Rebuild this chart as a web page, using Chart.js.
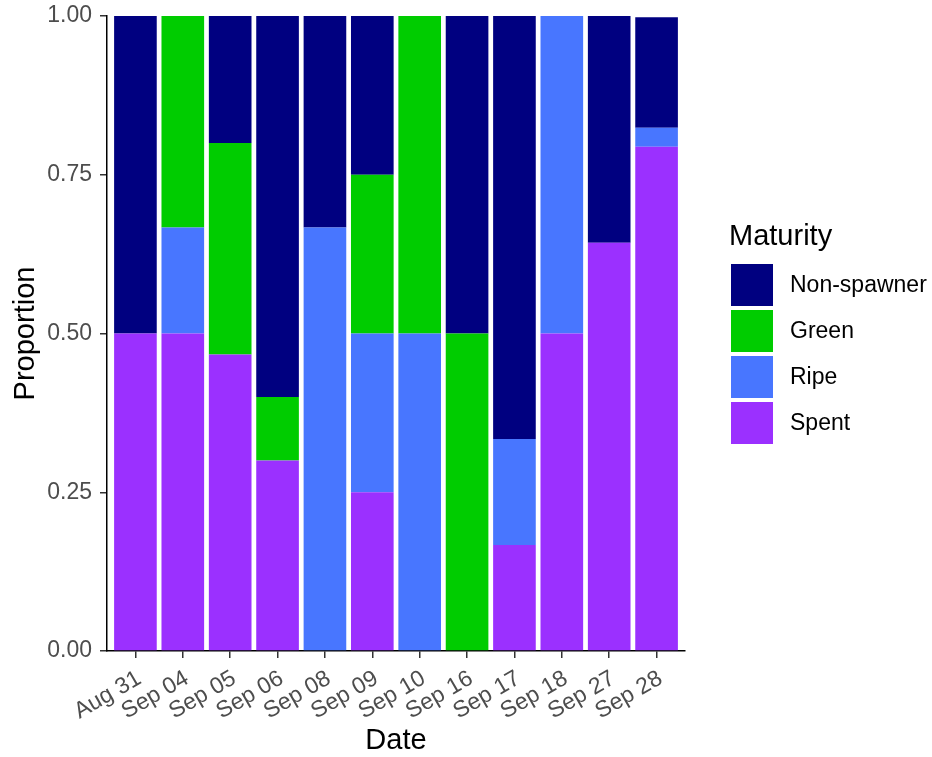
<!DOCTYPE html>
<html>
<head>
<meta charset="utf-8">
<script src="https://cdn.jsdelivr.net/npm/chart.js@4.4.1/dist/chart.umd.min.js"></script>
<style>
  html, body { margin: 0; padding: 0; background: #fff; }
  #wrap { width: 932px; height: 757px; }
</style>
</head>
<body>
<div id="wrap"><canvas id="chart" width="932" height="757"></canvas></div>
<script>
// categories (sampling dates)
var dates = ['Aug 31', 'Sep 04', 'Sep 05', 'Sep 06', 'Sep 08', 'Sep 09', 'Sep 10', 'Sep 16', 'Sep 17', 'Sep 18', 'Sep 27', 'Sep 28'];

// proportion of each maturity stage, per date
var spent      = [0.5, 0.5,   0.467, 0.3, 0,     0.25, 0,   0,   0.167, 0.5, 0.643, 0.794];
var ripe       = [0,   0.167, 0,     0,   0.667, 0.25, 0.5, 0,   0.167, 0.5, 0,     0.030];
var green      = [0,   0.333, 0.333, 0.1, 0,     0.25, 0.5, 0.5, 0,     0,   0,     0];
var nonSpawner = [0.5, 0,     0.2,   0.6, 0.333, 0.25, 0,   0.5, 0.666, 0,   0.357, 0.174];

var yTicks = [0, 0.25, 0.5, 0.75, 1];

var textGrey = '#4d4d4d';
var fontFam = '"Liberation Sans", Arial, sans-serif';

function toPoints(arr) {
    return arr.map(function (v, i) { return { x: i + 1, y: v }; });
}

// legend drawn by hand, ggplot style (title above, square keys)
var sideLegend = {
    id: 'sideLegend',
    afterDraw: function (chart) {
        var ctx = chart.ctx;
        var sets = chart.data.datasets.slice().reverse();
        var x0 = 731, y0 = 264, key = 42, step = 46;
        ctx.save();
        ctx.fillStyle = '#000';
        ctx.font = '29px ' + fontFam;
        ctx.textBaseline = 'middle';
        ctx.textAlign = 'left';
        ctx.fillText('Maturity', 729, 237);
        ctx.font = '23px ' + fontFam;
        sets.forEach(function (ds, i) {
            var y = y0 + i * step;
            ctx.fillStyle = ds.backgroundColor;
            ctx.fillRect(x0, y, key, key);
            ctx.fillStyle = '#000';
            ctx.fillText(ds.label, 790, y + key / 2 + 1);
        });
        ctx.restore();
    }
};

var ctx = document.getElementById('chart');

new Chart(ctx, {
    type: 'bar',
    data: {
        datasets: [
            { label: 'Spent', data: toPoints(spent), backgroundColor: '#9B30FF' },
            { label: 'Ripe', data: toPoints(ripe), backgroundColor: '#4876FF' },
            { label: 'Green', data: toPoints(green), backgroundColor: '#00CC00' },
            { label: 'Non-spawner', data: toPoints(nonSpawner), backgroundColor: '#000080' }
        ]
    },
    options: {
        responsive: false,
        animation: false,
        barPercentage: 0.9,
        categoryPercentage: 1.0,
        layout: { padding: { left: 0, top: 16, right: 247, bottom: 0 } },
        plugins: {
            legend: { display: false },
            tooltip: { enabled: false }
        },
        scales: {
            x: {
                type: 'linear',
                stacked: true,
                offset: false,
                min: 0.4,
                max: 12.6,
                afterBuildTicks: function (scale) {
                    scale.ticks = dates.map(function (d, i) { return { value: i + 1 }; });
                },
                afterFit: function (scale) {
                    scale.height = 106;
                    scale.paddingLeft = 0;
                    scale.paddingRight = 0;
                },
                grid: { offset: false, drawOnChartArea: false, drawTicks: true, tickLength: 7, color: '#333', lineWidth: 1.5 },
                border: { color: '#000', width: 1.5 },
                ticks: {
                    autoSkip: false,
                    minRotation: 30,
                    maxRotation: 30,
                    padding: 7,
                    labelOffset: 4,
                    color: textGrey,
                    font: { family: fontFam, size: 23 },
                    callback: function (v) { return dates[v - 1]; }
                },
                title: {
                    display: true,
                    text: 'Date',
                    color: '#000',
                    font: { family: fontFam, size: 29, lineHeight: 1.0 },
                    padding: { top: 0, bottom: 2 }
                }
            },
            y: {
                stacked: true,
                min: 0,
                max: 1,
                afterBuildTicks: function (scale) {
                    scale.ticks = yTicks.map(function (v) { return { value: v }; });
                },
                afterFit: function (scale) {
                    scale.width = 107;
                    scale.paddingTop = 0;
                    scale.paddingBottom = 0;
                },
                grid: { drawOnChartArea: false, drawTicks: true, tickLength: 7, color: '#333', lineWidth: 1.5 },
                border: { color: '#000', width: 1.5 },
                ticks: {
                    padding: 8,
                    color: textGrey,
                    font: { family: fontFam, size: 23 },
                    callback: function (v) { return v.toFixed(2); }
                },
                title: {
                    display: true,
                    text: 'Proportion',
                    color: '#000',
                    font: { family: fontFam, size: 29, lineHeight: 1.0 },
                    padding: { top: 11, bottom: 0 }
                }
            }
        }
    },
    plugins: [sideLegend]
});
</script>
</body>
</html>
